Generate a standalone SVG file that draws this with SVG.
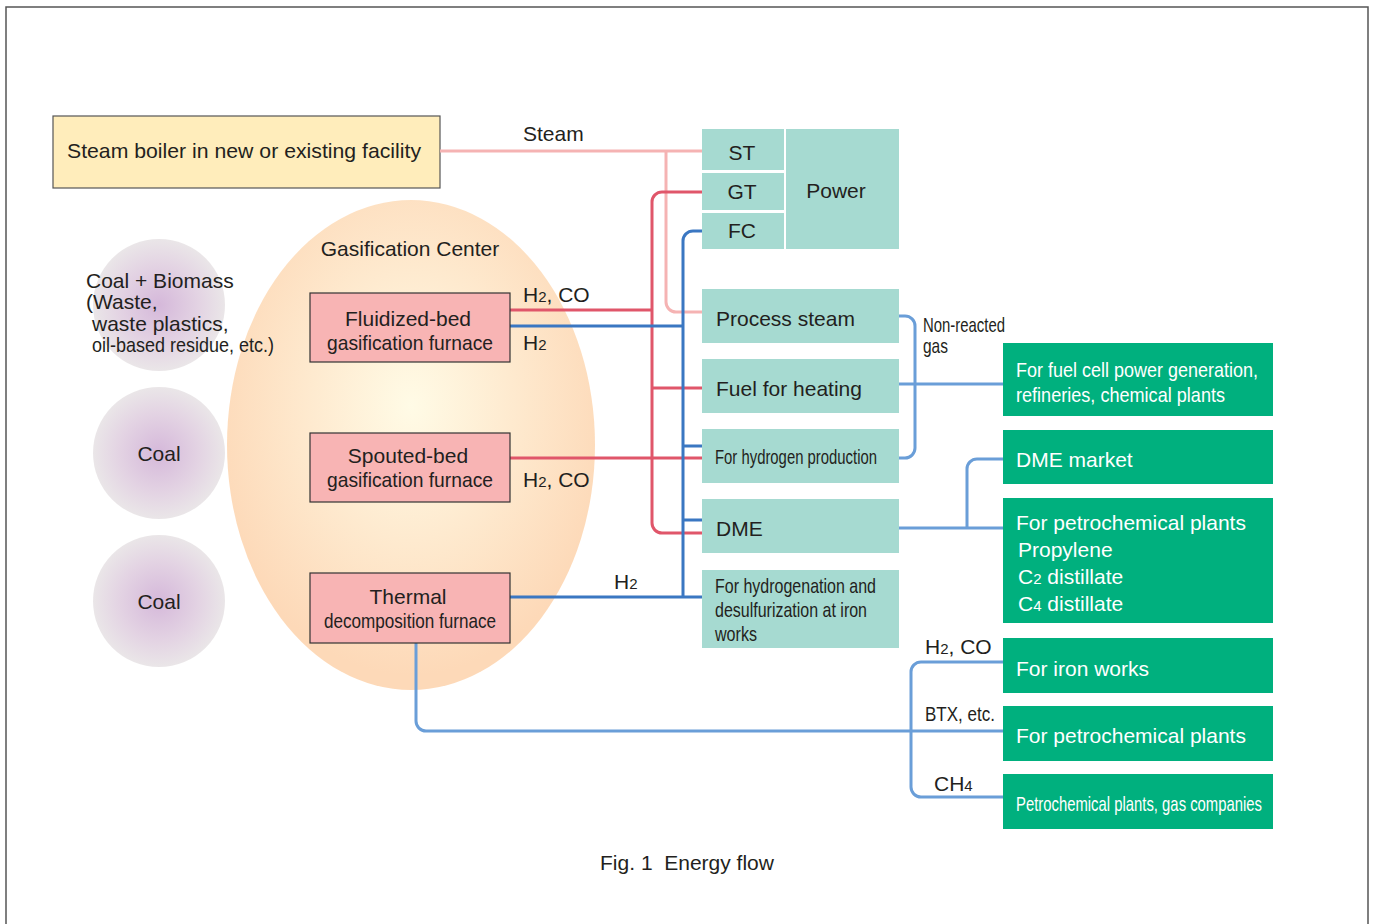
<svg xmlns="http://www.w3.org/2000/svg" width="1373" height="924" viewBox="0 0 1373 924">
<style>
text{font-family:"Liberation Sans",Arial,sans-serif;fill:#231F20;font-size:21px}
.w{fill:#fff}
.c{text-anchor:middle}
.s{font-size:15px}
.teal{fill:#A6DAD1}
.green{fill:#00B07E}
.furn{fill:#F8B4B4;stroke:#333;stroke-width:1.2}
.ln{fill:none;stroke-width:3}
.pink{stroke:#F5B3B3}
.red{stroke:#E0566A}
.blue{stroke:#3A77C2}
.lb{stroke:#6A9ED8}
</style>
<defs>
<radialGradient id="eg" cx="0.5" cy="0.42" r="0.55">
<stop offset="0" stop-color="#FFFBE6"/>
<stop offset="1" stop-color="#FDD9B8"/>
</radialGradient>
<radialGradient id="cg" cx="0.5" cy="0.5" r="0.5">
<stop offset="0" stop-color="#D5B8DA"/>
<stop offset="0.6" stop-color="#E3D3E3"/>
<stop offset="1" stop-color="#EAE6E8"/>
</radialGradient>
</defs>
<rect x="6" y="7" width="1362" height="930" fill="#fff" stroke="#555" stroke-width="1.5"/>

<g id="boiler">
<rect x="53" y="116" width="387" height="72" fill="#FFEDBB" stroke="#555" stroke-width="1.2"/>
<text x="244" y="158" class="c" textLength="354" lengthAdjust="spacingAndGlyphs">Steam boiler in new or existing facility</text>
</g>

<g id="center">
<ellipse cx="411" cy="445" rx="184" ry="245" fill="url(#eg)"/>
<text x="410" y="256" class="c">Gasification Center</text>
</g>

<g id="biomass">
<circle cx="159" cy="305" r="66" fill="url(#cg)"/>
<text x="86" y="288">Coal + Biomass</text>
<text x="86" y="309">(Waste,</text>
<text x="92" y="331">waste plastics,</text>
<text x="92" y="352" textLength="182" lengthAdjust="spacingAndGlyphs">oil-based residue, etc.)</text>
</g>
<g id="coal1">
<circle cx="159" cy="453" r="66" fill="url(#cg)"/>
<text x="159" y="461" class="c">Coal</text>
</g>
<g id="coal2">
<circle cx="159" cy="601" r="66" fill="url(#cg)"/>
<text x="159" y="609" class="c">Coal</text>
</g>

<g id="connectors">
<path class="ln pink" d="M440,151 H702 M666,151 V302 a10,10 0 0 0 10,10 H702"/>
<path class="ln red" d="M702,192 H662 a10,10 0 0 0 -10,10 V523 a10,10 0 0 0 10,10 H702 M510,310 H652 M652,388 H702 M510,458 H702"/>
<path class="ln blue" d="M702,231 H693 a10,10 0 0 0 -10,10 V597 M510,326 H683 M683,446 H702 M683,520 H702 M510,597 H702"/>
<path class="ln lb" d="M899,316 H905 a10,10 0 0 1 10,10 V448 a10,10 0 0 1 -10,10 H899 M899,384 H1003 M899,528 H1003 M967,528 V469 a10,10 0 0 1 10,-10 H1003 M416,643 V721 a10,10 0 0 0 10,10 H1003 M1003,662 H921 a10,10 0 0 0 -10,10 V787 a10,10 0 0 0 10,10 H1003"/>
<text x="523" y="141">Steam</text>
<text x="523" y="302">H<tspan class="s">2</tspan>, CO</text>
<text x="523" y="350">H<tspan class="s">2</tspan></text>
<text x="523" y="487">H<tspan class="s">2</tspan>, CO</text>
<text x="614" y="589" font-size="20">H<tspan class="s">2</tspan></text>
<text x="923" y="332" font-size="19" textLength="82" lengthAdjust="spacingAndGlyphs">Non-reacted</text>
<text x="923" y="353" font-size="19" textLength="25" lengthAdjust="spacingAndGlyphs">gas</text>
<text x="925" y="654" font-size="20">H<tspan class="s">2</tspan>, CO</text>
<text x="925" y="721" font-size="19" textLength="70" lengthAdjust="spacingAndGlyphs">BTX, etc.</text>
<text x="934" y="791" font-size="20">CH<tspan class="s">4</tspan></text>
</g>

<g id="fluidized">
<rect class="furn" x="310" y="293" width="200" height="69"/>
<text x="408" y="326" class="c">Fluidized-bed</text>
<text x="410" y="350" class="c" font-size="20" textLength="166" lengthAdjust="spacingAndGlyphs">gasification furnace</text>
</g>
<g id="spouted">
<rect class="furn" x="310" y="433" width="200" height="69"/>
<text x="408" y="463" class="c">Spouted-bed</text>
<text x="410" y="487" class="c" font-size="20" textLength="166" lengthAdjust="spacingAndGlyphs">gasification furnace</text>
</g>
<g id="thermal">
<rect class="furn" x="310" y="573" width="200" height="70"/>
<text x="408" y="604" class="c">Thermal</text>
<text x="410" y="628" class="c" font-size="20" textLength="172" lengthAdjust="spacingAndGlyphs">decomposition furnace</text>
</g>

<g id="st"><rect class="teal" x="702" y="129" width="82" height="41"/><text x="742" y="160" class="c">ST</text></g>
<g id="gt"><rect class="teal" x="702" y="173" width="82" height="37"/><text x="742" y="199" class="c">GT</text></g>
<g id="fc"><rect class="teal" x="702" y="213" width="82" height="36"/><text x="742" y="238" class="c">FC</text></g>
<g id="power"><rect class="teal" x="786" y="129" width="113" height="120"/><text x="836" y="198" class="c">Power</text></g>

<g id="process-steam"><rect class="teal" x="702" y="289" width="197" height="54"/><text x="716" y="326">Process steam</text></g>
<g id="fuel-heating"><rect class="teal" x="702" y="359" width="197" height="54"/><text x="716" y="396">Fuel for heating</text></g>
<g id="h2-production"><rect class="teal" x="702" y="429" width="197" height="54"/><text x="715" y="464" font-size="19.5" textLength="162" lengthAdjust="spacingAndGlyphs">For hydrogen production</text></g>
<g id="dme"><rect class="teal" x="702" y="499" width="197" height="54"/><text x="716" y="536" font-size="25">DME</text></g>
<g id="hydrogenation"><rect class="teal" x="702" y="570" width="197" height="78"/>
<text x="715" y="593" font-size="19.5" textLength="161" lengthAdjust="spacingAndGlyphs">For hydrogenation and</text>
<text x="715" y="617" font-size="19.5" textLength="152" lengthAdjust="spacingAndGlyphs">desulfurization at iron</text>
<text x="715" y="641" font-size="19.5" textLength="42" lengthAdjust="spacingAndGlyphs">works</text>
</g>

<g id="fuel-cell"><rect class="green" x="1003" y="343" width="270" height="73"/>
<text x="1016" y="377" class="w" font-size="20" textLength="242" lengthAdjust="spacingAndGlyphs">For fuel cell power generation,</text>
<text x="1016" y="402" class="w" font-size="20" textLength="209" lengthAdjust="spacingAndGlyphs">refineries, chemical plants</text>
</g>
<g id="dme-market"><rect class="green" x="1003" y="430" width="270" height="54"/><text x="1016" y="467" class="w">DME market</text></g>
<g id="petro1"><rect class="green" x="1003" y="498" width="270" height="125"/>
<text x="1016" y="530" class="w">For petrochemical plants</text>
<text x="1018" y="557" class="w">Propylene</text>
<text x="1018" y="584" class="w">C<tspan class="s">2</tspan> distillate</text>
<text x="1018" y="611" class="w">C<tspan class="s">4</tspan> distillate</text>
</g>
<g id="iron-works"><rect class="green" x="1003" y="638" width="270" height="55"/><text x="1016" y="676" class="w">For iron works</text></g>
<g id="petro2"><rect class="green" x="1003" y="706" width="270" height="55"/><text x="1016" y="743" class="w">For petrochemical plants</text></g>
<g id="gas-companies"><rect class="green" x="1003" y="774" width="270" height="55"/><text x="1016" y="811" class="w" font-size="19.5" textLength="246" lengthAdjust="spacingAndGlyphs">Petrochemical plants, gas companies</text></g>

<text x="687" y="870" class="c" font-size="20" xml:space="preserve">Fig. 1  Energy flow</text>
</svg>
